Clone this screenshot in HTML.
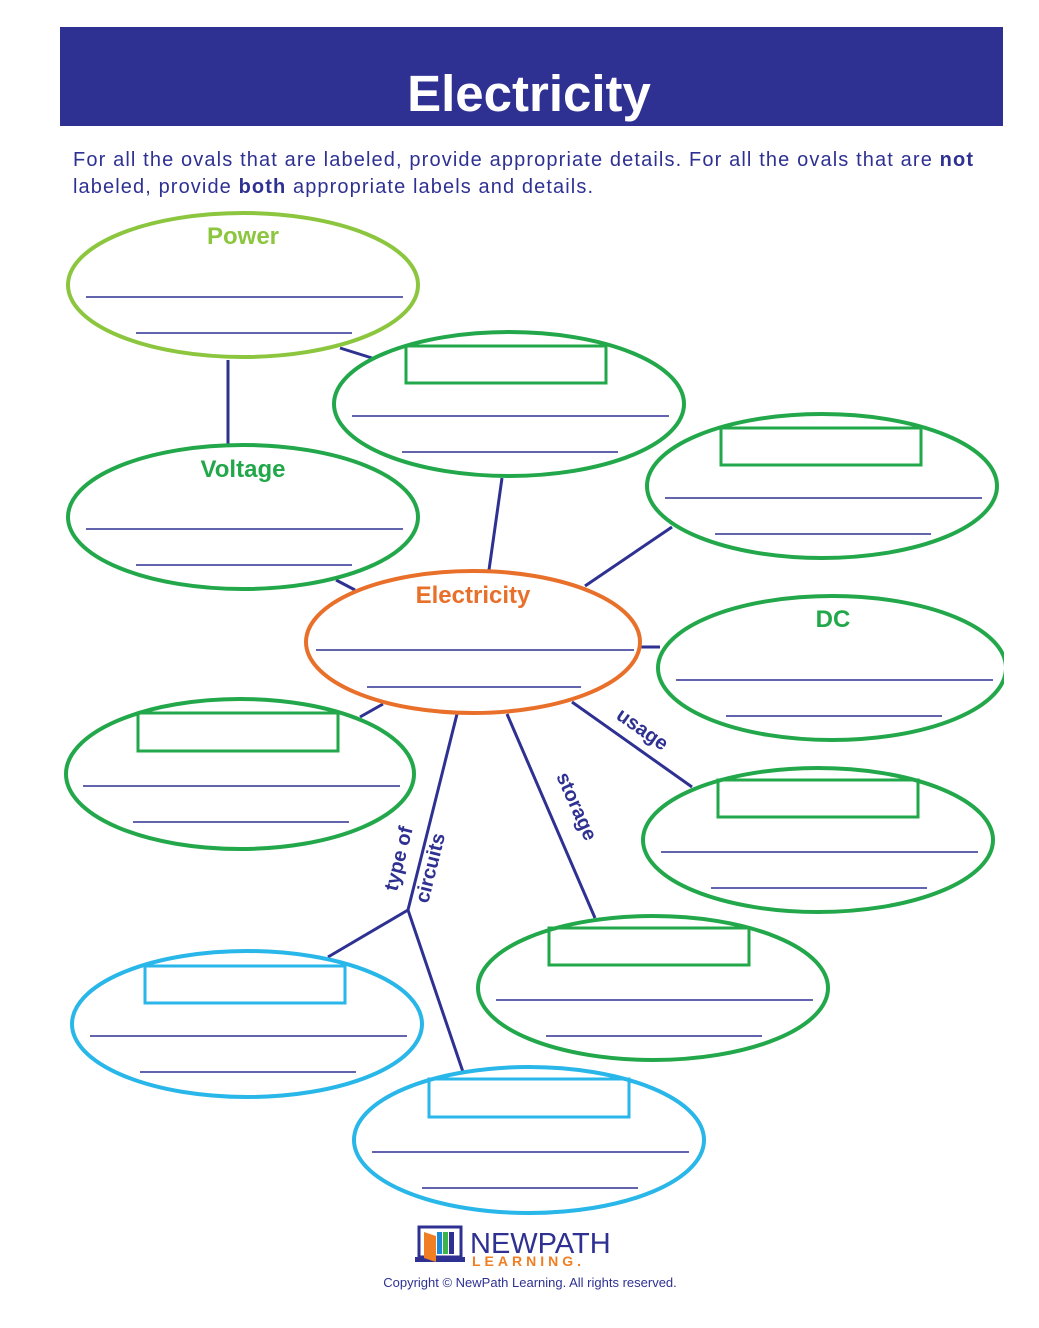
<!DOCTYPE html>
<html><head><meta charset="utf-8"><style>
body{margin:0;background:#fff;}
svg{display:block;font-family:"Liberation Sans",Arial,sans-serif;}
</style></head><body>
<svg width="1039" height="1328" viewBox="0 0 1039 1328" xmlns="http://www.w3.org/2000/svg">
<rect x="60" y="27" width="943" height="99" fill="#2e3192"/>
<text x="529" y="111" text-anchor="middle" font-size="51" font-weight="bold" fill="#fff">Electricity</text>
<text x="73" y="166" font-size="20" fill="#2e3192" textLength="900" lengthAdjust="spacing">For all the ovals that are labeled, provide appropriate details.  For all the ovals that are <tspan font-weight="bold">not</tspan></text>
<text x="73" y="193" font-size="20" fill="#2e3192" textLength="520" lengthAdjust="spacing">labeled, provide <tspan font-weight="bold">both</tspan> appropriate labels and details.</text>

<g stroke="#2e3192" stroke-width="3" fill="none">
<line x1="340" y1="348" x2="372" y2="358"/>
<line x1="228" y1="360" x2="228" y2="445"/>
<line x1="502" y1="478" x2="489" y2="570"/>
<line x1="672" y1="527" x2="585" y2="586"/>
<line x1="336" y1="580" x2="355" y2="590"/>
<line x1="640" y1="647" x2="660" y2="647"/>
<line x1="383" y1="704" x2="360" y2="717"/>
<line x1="572" y1="702" x2="692" y2="787"/>
<line x1="507" y1="714" x2="595" y2="918"/>
<line x1="457" y1="714" x2="408" y2="910"/>
<line x1="408" y1="910" x2="328" y2="957"/>
<line x1="408" y1="910" x2="463" y2="1072"/>
</g>
<g font-size="20" font-weight="bold" fill="#2e3192">
<text transform="translate(615,718) rotate(35)">usage</text>
<text transform="translate(556,776) rotate(66)">storage</text>
<text transform="translate(397,892) rotate(-76)">type of</text>
<text transform="translate(428,904) rotate(-76)">circuits</text>
</g>

<g fill="#fff" stroke-width="4">
<ellipse cx="243" cy="285" rx="175" ry="72" stroke="#8cc63f"/>
<ellipse cx="509" cy="404" rx="175" ry="72" stroke="#22a84a"/>
<ellipse cx="822" cy="486" rx="175" ry="72" stroke="#22a84a"/>
<ellipse cx="243" cy="517" rx="175" ry="72" stroke="#22a84a"/>
<ellipse cx="473" cy="642" rx="167" ry="71" stroke="#e8702a"/>
<ellipse cx="832" cy="668" rx="174" ry="72" stroke="#22a84a"/>
<ellipse cx="240" cy="774" rx="174" ry="75" stroke="#22a84a"/>
<ellipse cx="818" cy="840" rx="175" ry="72" stroke="#22a84a"/>
<ellipse cx="653" cy="988" rx="175" ry="72" stroke="#22a84a"/>
<ellipse cx="247" cy="1024" rx="175" ry="73" stroke="#29b6e8"/>
<ellipse cx="529" cy="1140" rx="175" ry="73" stroke="#29b6e8"/>
</g>
<rect x="1004" y="590" width="35" height="160" fill="#fff"/>
<g fill="none" stroke-width="3">
<rect x="406" y="346" width="200" height="37" stroke="#22a84a"/>
<rect x="721" y="428" width="200" height="37" stroke="#22a84a"/>
<rect x="138" y="713" width="200" height="38" stroke="#22a84a"/>
<rect x="718" y="780" width="200" height="37" stroke="#22a84a"/>
<rect x="549" y="928" width="200" height="37" stroke="#22a84a"/>
<rect x="145" y="966" width="200" height="37" stroke="#29b6e8"/>
<rect x="429" y="1079" width="200" height="38" stroke="#29b6e8"/>
</g>
<g font-size="24" font-weight="bold" text-anchor="middle">
<text x="243" y="244" fill="#8cc63f">Power</text>
<text x="243" y="477" fill="#22a84a">Voltage</text>
<text x="473" y="603" fill="#e8702a">Electricity</text>
<text x="833" y="627" fill="#22a84a">DC</text>
</g>
<g stroke="#2e3192" stroke-width="1.5">
<line x1="86" y1="297" x2="403" y2="297"/><line x1="136" y1="333" x2="352" y2="333"/>
<line x1="352" y1="416" x2="669" y2="416"/><line x1="402" y1="452" x2="618" y2="452"/>
<line x1="665" y1="498" x2="982" y2="498"/><line x1="715" y1="534" x2="931" y2="534"/>
<line x1="86" y1="529" x2="403" y2="529"/><line x1="136" y1="565" x2="352" y2="565"/>
<line x1="316" y1="650" x2="634" y2="650"/><line x1="367" y1="687" x2="581" y2="687"/>
<line x1="676" y1="680" x2="993" y2="680"/><line x1="726" y1="716" x2="942" y2="716"/>
<line x1="83" y1="786" x2="400" y2="786"/><line x1="133" y1="822" x2="349" y2="822"/>
<line x1="661" y1="852" x2="978" y2="852"/><line x1="711" y1="888" x2="927" y2="888"/>
<line x1="496" y1="1000" x2="813" y2="1000"/><line x1="546" y1="1036" x2="762" y2="1036"/>
<line x1="90" y1="1036" x2="407" y2="1036"/><line x1="140" y1="1072" x2="356" y2="1072"/>
<line x1="372" y1="1152" x2="689" y2="1152"/><line x1="422" y1="1188" x2="638" y2="1188"/>
</g>
<g>
<rect x="419" y="1227" width="42" height="30" fill="none" stroke="#2e3192" stroke-width="3"/>
<rect x="415" y="1257" width="50" height="5" fill="#2e3192"/>
<polygon points="424,1232 436,1236 436,1262 424,1258" fill="#f07f23"/>
<rect x="437" y="1232" width="5" height="22" fill="#1a8ad4"/>
<rect x="443" y="1232" width="5" height="22" fill="#3ab54a"/>
<rect x="449" y="1232" width="5" height="22" fill="#2e3192"/>
</g>
<text x="470" y="1253" font-size="29" fill="#2e3192">NEWPATH</text>
<text x="472" y="1266" font-size="14" font-weight="bold" fill="#f07f23" letter-spacing="4">LEARNING.</text>
<text x="530" y="1287" font-size="13" fill="#2e3192" text-anchor="middle">Copyright © NewPath Learning.  All rights reserved.</text>
</svg>
</body></html>
